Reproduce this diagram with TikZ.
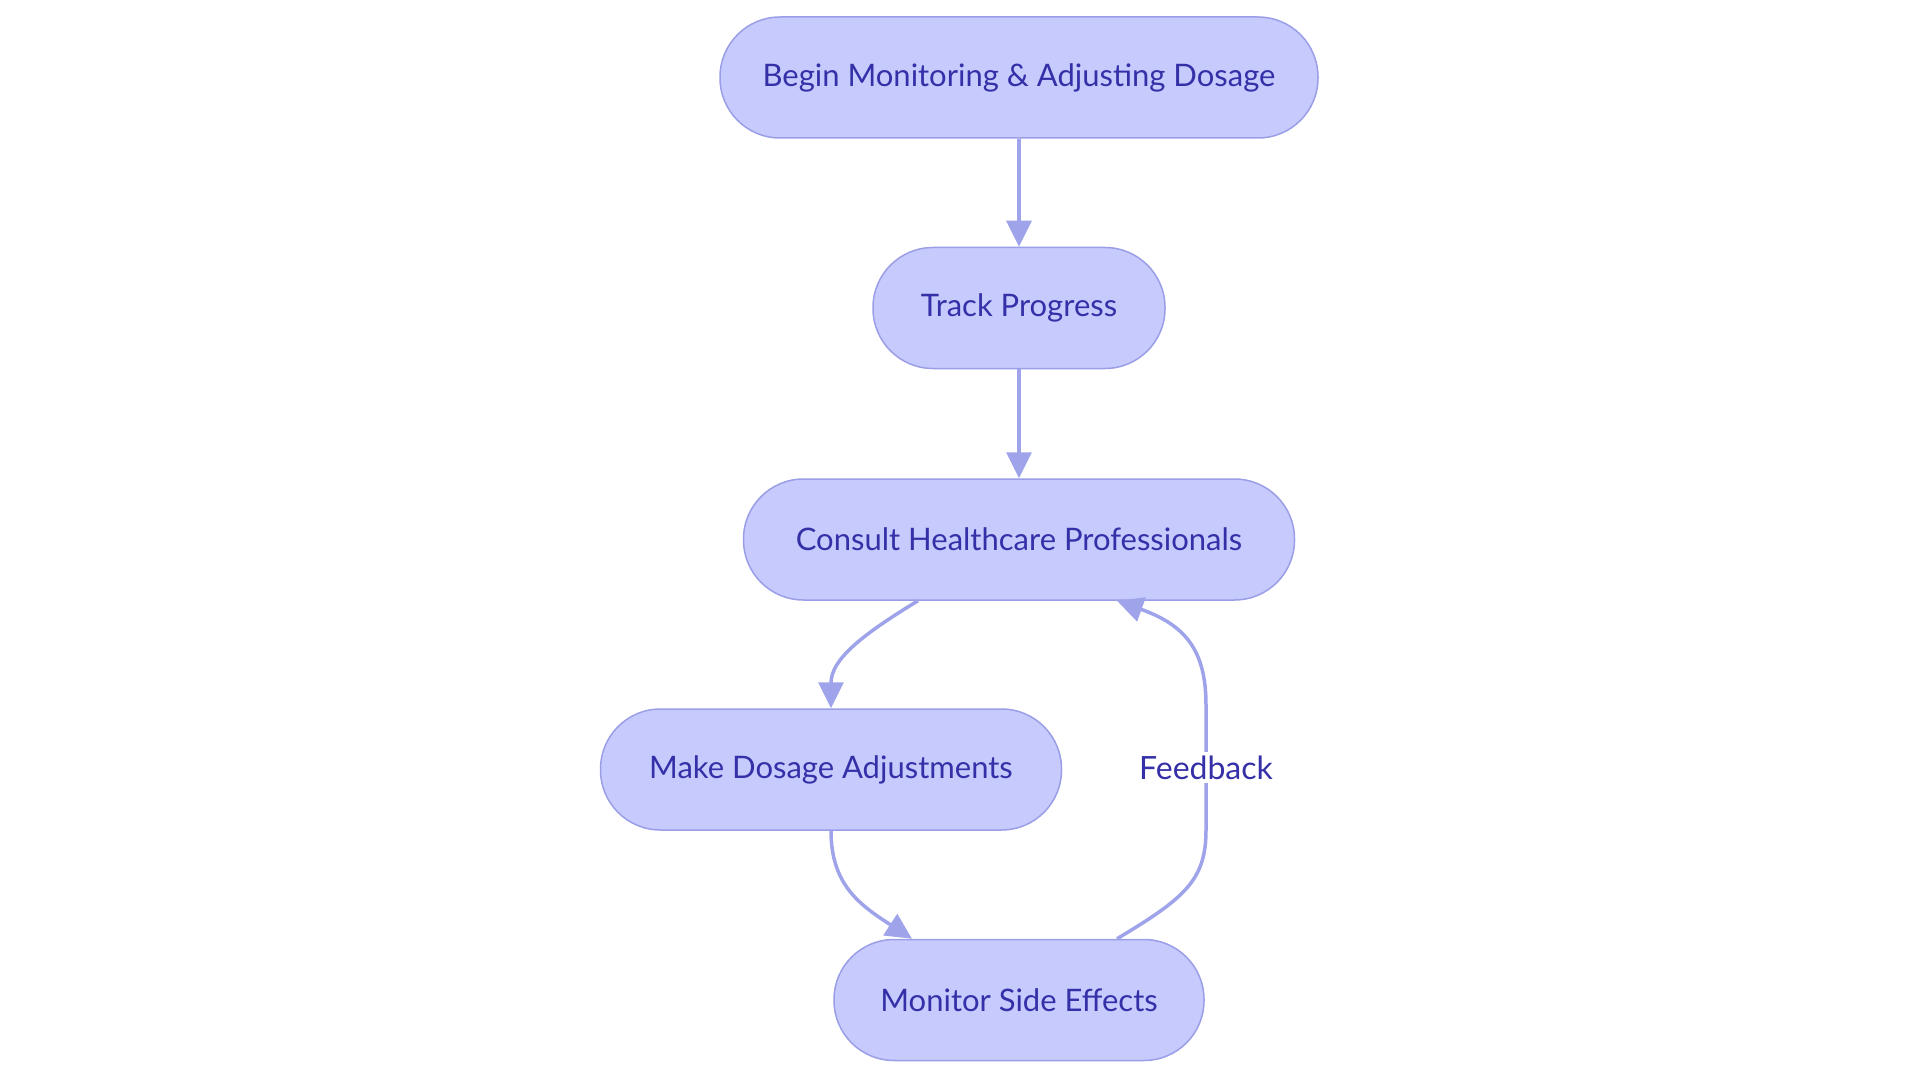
\documentclass[tikz,border=0pt]{standalone}
\usepackage{fontspec}
\setmainfont{Lato}
\usetikzlibrary{arrows.meta,calc}
\definecolor{boxfill}{HTML}{C7CAFD}
\definecolor{boxline}{HTML}{9A9EE6}
\definecolor{flowline}{HTML}{9FA3EA}
\definecolor{boxtext}{HTML}{3530A8}

\begin{document}
\begin{tikzpicture}[x=1pt,y=-1pt,
        stage/.style={draw=boxline, fill=boxfill, line width=1.5pt, rounded corners=60pt,
            minimum height=121pt, text=boxtext, font=\fontsize{31}{37}\selectfont},
        flow/.style={draw=flowline, line width=3.5pt, -{Triangle[length=26pt,width=25pt]}}]
        \useasboundingbox (0,0) rectangle (1920,1083);
        \node [stage, minimum width=598pt] (begin) at (1019,77.5) {Begin Monitoring \& Adjusting Dosage};
        \node [stage, minimum width=292pt] (track) at (1019,308) {Track Progress};
        \node [stage, minimum width=551pt] (consult) at (1019,539.5) {Consult Healthcare Professionals};
        \node [stage, minimum width=461pt] (make) at (831,769.5) {Make Dosage Adjustments};
        \node [stage, minimum width=370pt] (monitor) at (1019,1000) {Monitor Side Effects};

        \draw [flow] (begin) -- (track);
        \draw [flow] (track) -- (consult);
        \draw [flow] ($(consult.south)+(-101,0)$) .. controls (860,636) and (831,660) .. (make.north);
        \draw [flow] (make.south) .. controls (831,885) and (860,905) .. ($(monitor.north)+(-107,0)$);
        \draw [flow] ($(monitor.north)+(98,0)$) .. controls (1185,898) and (1206,880) .. (1206,830)
            -- node [midway, fill=white, text=boxtext, font=\fontsize{32}{38}\selectfont] (fb) {Feedback} (1206,705)
            .. controls (1206,650) and (1185,625) .. ($(consult.south)+(98,0)$);
\end{tikzpicture}
\end{document}
